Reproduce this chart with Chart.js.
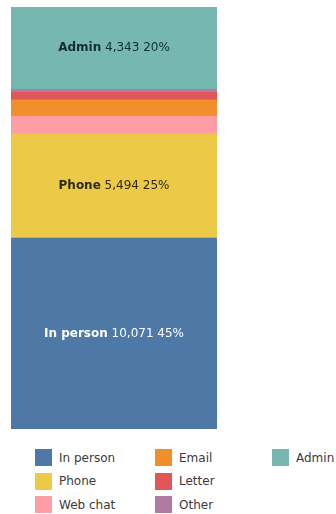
<!DOCTYPE html>
<html>
<head>
<meta charset="utf-8">
<script src="https://cdn.jsdelivr.net/npm/chart.js@4/dist/chart.umd.min.js"></script>
<style>
  html, body { margin: 0; padding: 0; background: #fff; overflow: hidden; }
  #wrap { position: relative; width: 336px; height: 514px; }
  #chart-box { position: absolute; left: 0; top: 0; width: 336px; height: 440px; }
  #legend {
    position: absolute; left: 35px; top: 446px;
    display: grid; grid-auto-flow: column;
    grid-template-rows: repeat(3, 23.5px);
    grid-template-columns: 120px 117px 120px;
    font-family: "DejaVu Sans", sans-serif; font-size: 12px; color: #3a3a3a;
    white-space: nowrap;
  }
  #legend .item { display: flex; align-items: center; }
  #legend .box { width: 17px; height: 17px; margin-right: 7px; flex: none; }
</style>
</head>
<body>
<div id="wrap">
  <div id="chart-box"><canvas id="channelChart"></canvas></div>
  <div id="legend"></div>
</div>
<script>
// contact channels, bottom of the stack first
const channels = ["In person", "Phone", "Web chat", "Email", "Letter", "Other", "Admin"];
const contacts = [10071, 5494, 920, 870, 390, 160, 4343];
const colours = ["#4e79a7", "#edc948", "#ff9da7", "#f28e2b", "#e15759", "#b07aa1", "#76b7b2"];
const labelColours = ["#ffffff", "#2b2b10", "#222", "#222", "#222", "#222", "#10302e"];

const total = contacts.reduce((a, b) => a + b, 0);

const datasets = channels.map((name, i) => ({
  label: name,
  data: [contacts[i]],
  backgroundColor: colours[i],
  borderWidth: 0,
  barPercentage: 1,
  categoryPercentage: 1
}));

// name + count + share written inside the bigger segments
const segmentLabels = {
  id: "segmentLabels",
  afterDatasetsDraw(chart) {
    const ctx = chart.ctx;
    ctx.save();
    ctx.textBaseline = "middle";
    chart.data.datasets.forEach((ds, i) => {
      const value = ds.data[0];
      const share = value / total;
      if (share < 0.1) return;
      const bar = chart.getDatasetMeta(i).data[0];
      const cy = (bar.y + bar.base) / 2;
      const name = ds.label;
      const rest = " " + value.toLocaleString("en-US") + " " + Math.round(share * 100) + "%";
      ctx.font = "bold 12px 'DejaVu Sans'";
      const w1 = ctx.measureText(name).width;
      ctx.font = "12px 'DejaVu Sans'";
      const w2 = ctx.measureText(rest).width;
      let x = bar.x - (w1 + w2) / 2;
      ctx.fillStyle = labelColours[i];
      ctx.textAlign = "left";
      ctx.font = "bold 12px 'DejaVu Sans'";
      ctx.fillText(name, x, cy);
      ctx.font = "12px 'DejaVu Sans'";
      ctx.fillText(rest, x + w1, cy);
    });
    ctx.restore();
  }
};

new Chart(document.getElementById("channelChart"), {
  type: "bar",
  data: { labels: ["Contacts"], datasets: datasets },
  options: {
    responsive: true,
    maintainAspectRatio: false,
    animation: false,
    layout: { padding: { left: 11, right: 119, top: 7, bottom: 11 } },
    plugins: { legend: { display: false }, tooltip: { enabled: false } },
    scales: {
      x: { stacked: true, display: false },
      y: { stacked: true, display: false, min: 0, max: total }
    }
  },
  plugins: [segmentLabels]
});

// legend laid out in columns of three
const legend = document.getElementById("legend");
channels.forEach((name, i) => {
  const item = document.createElement("div");
  item.className = "item";
  const box = document.createElement("span");
  box.className = "box";
  box.style.background = colours[i];
  const text = document.createElement("span");
  text.textContent = name;
  item.appendChild(box);
  item.appendChild(text);
  legend.appendChild(item);
});
</script>
</body>
</html>
